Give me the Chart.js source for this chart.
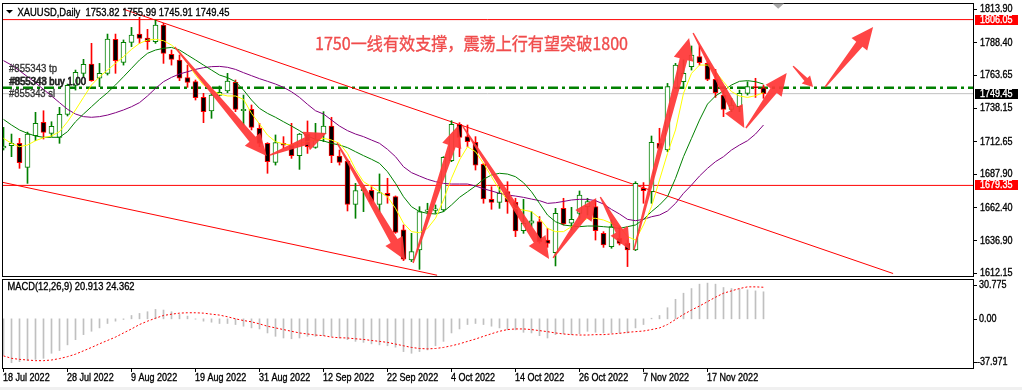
<!DOCTYPE html>
<html>
<head>
<meta charset="utf-8">
<script src="https://cdn.jsdelivr.net/npm/chart.js@4.4.0/dist/chart.umd.min.js"></script>
<style>
html, body { margin: 0; padding: 0; background: #fff; }
#wrap { position: relative; width: 1022px; height: 390px; overflow: hidden; }
#main { position: absolute; left: 0; top: 0; width: 1022px; height: 278px; }
#macd { position: absolute; left: 0; top: 278px; width: 1022px; height: 112px; }
#foot { position: absolute; left: 0; top: 387px; width: 1022px; height: 3px; background: #f0f0f0; }
</style>
</head>
<body>
<div id="wrap">
  <canvas id="main" width="1022" height="278"></canvas>
  <canvas id="macd" width="1022" height="112"></canvas>
  <div id="foot"></div>
</div>
<script>
// XAUUSD daily, 18 Jul 2022 .. 28 Nov 2022 (96 bars)
const opens = [
  1707.9, 1709.7, 1711.5, 1693.1, 1717.3, 1727.5, 1719.1, 1716.1, 1733.6, 1755.8,
  1765.0, 1772.1, 1761.2, 1765.0, 1791.0, 1773.4, 1788.7, 1795.0, 1792.0, 1789.2,
  1801.9, 1779.5, 1775.2, 1761.7, 1758.6, 1746.6, 1736.2, 1748.2, 1751.5, 1758.1,
  1736.4, 1737.5, 1723.0, 1711.5, 1697.0, 1711.5, 1710.2, 1702.1, 1718.6, 1708.4,
  1718.6, 1724.7, 1701.8, 1698.0, 1664.9, 1675.3, 1675.6, 1664.9, 1673.3, 1670.8,
  1645.3, 1622.4, 1630.0, 1659.5, 1660.3, 1660.6, 1698.3, 1726.0, 1716.6, 1712.3,
  1695.5, 1668.7, 1666.4, 1674.6, 1666.4, 1644.8, 1650.4, 1651.7, 1637.6, 1628.0,
  1661.8, 1650.4, 1658.0, 1663.1, 1663.1, 1642.7, 1632.5, 1638.9, 1635.1, 1630.0,
  1677.1, 1674.6, 1711.5, 1706.4, 1754.3, 1758.6, 1770.1, 1777.7, 1772.6, 1760.4,
  1748.4, 1737.5, 1739.5, 1749.7, 1754.8, 1753.82
];
const highs = [
  1723.7, 1718.6, 1715.3, 1720.1, 1735.2, 1736.4, 1728.0, 1739.0, 1756.8, 1767.5,
  1775.7, 1787.9, 1772.6, 1795.0, 1795.0, 1790.5, 1800.1, 1807.8, 1798.6, 1805.7,
  1803.2, 1782.8, 1779.0, 1771.3, 1759.9, 1749.7, 1749.7, 1755.3, 1765.0, 1759.9,
  1748.4, 1740.8, 1726.8, 1712.0, 1717.9, 1716.6, 1726.8, 1719.1, 1728.6, 1726.8,
  1735.7, 1731.4, 1706.4, 1698.8, 1680.9, 1679.2, 1678.4, 1688.1, 1684.8, 1671.3,
  1649.1, 1642.7, 1663.1, 1665.7, 1664.4, 1701.3, 1728.8, 1727.3, 1725.5, 1716.6,
  1696.2, 1678.4, 1678.4, 1682.2, 1669.5, 1668.7, 1659.3, 1655.5, 1646.6, 1661.8,
  1669.5, 1662.6, 1675.1, 1669.5, 1668.2, 1644.0, 1652.9, 1647.8, 1637.6, 1682.2,
  1681.5, 1717.1, 1723.0, 1757.3, 1772.6, 1775.2, 1785.9, 1785.9, 1773.9, 1768.0,
  1752.2, 1745.9, 1752.2, 1758.6, 1761.2, 1755.99
];
const lows = [
  1706.4, 1701.3, 1692.4, 1680.9, 1713.5, 1714.8, 1716.6, 1711.5, 1732.4, 1752.2,
  1762.4, 1758.9, 1754.8, 1763.7, 1765.0, 1771.3, 1785.4, 1787.9, 1783.3, 1787.9,
  1772.6, 1771.3, 1759.4, 1754.3, 1744.6, 1727.3, 1730.6, 1747.7, 1750.2, 1735.7,
  1725.5, 1721.7, 1708.9, 1688.6, 1694.9, 1707.7, 1700.0, 1691.6, 1703.8, 1707.7,
  1712.8, 1696.7, 1694.9, 1659.8, 1654.2, 1659.3, 1665.2, 1659.3, 1665.7, 1642.7,
  1621.9, 1621.1, 1615.2, 1657.5, 1658.0, 1659.3, 1697.5, 1701.3, 1708.9, 1691.1,
  1665.7, 1661.1, 1661.8, 1658.0, 1640.2, 1642.7, 1647.8, 1635.1, 1632.0, 1617.8,
  1649.1, 1645.3, 1654.2, 1656.7, 1637.6, 1632.0, 1631.3, 1633.8, 1617.3, 1629.5,
  1665.7, 1665.7, 1706.4, 1705.1, 1753.5, 1753.5, 1767.5, 1771.3, 1759.4, 1746.6,
  1731.9, 1735.7, 1735.7, 1748.4, 1746.6, 1745.91
];
const closes = [
  1709.4, 1711.5, 1696.7, 1718.6, 1726.8, 1719.9, 1724.5, 1733.6, 1755.8, 1765.7,
  1771.9, 1759.4, 1765.0, 1791.2, 1774.7, 1788.7, 1794.3, 1791.7, 1789.2, 1801.9,
  1780.3, 1775.7, 1761.2, 1758.1, 1746.4, 1735.7, 1748.4, 1750.5, 1759.1, 1737.5,
  1737.2, 1723.7, 1711.5, 1697.5, 1712.0, 1710.0, 1702.1, 1718.6, 1708.9, 1714.0,
  1724.7, 1702.1, 1697.0, 1664.9, 1675.3, 1675.9, 1666.9, 1673.8, 1671.3, 1643.5,
  1622.9, 1628.7, 1659.3, 1660.3, 1661.1, 1700.8, 1726.0, 1716.1, 1712.8, 1694.9,
  1669.0, 1666.4, 1673.3, 1666.7, 1644.5, 1650.4, 1652.2, 1636.4, 1635.1, 1658.0,
  1649.9, 1653.4, 1672.0, 1666.9, 1644.8, 1633.8, 1647.8, 1635.1, 1630.0, 1680.9,
  1675.3, 1712.3, 1707.7, 1754.8, 1771.3, 1765.0, 1779.0, 1773.1, 1760.4, 1750.2,
  1737.5, 1740.8, 1749.7, 1754.8, 1753.8, 1749.45
];
// moving averages as drawn on the chart
const maFast = [
  1715.3, 1711.5, 1708.9, 1710.2, 1713.5, 1715.8, 1717.1, 1720.4, 1728.0, 1737.0,
  1746.6, 1756.1, 1762.4, 1767.5, 1772.6, 1777.7, 1783.3, 1787.9, 1790.4, 1791.0,
  1789.9, 1786.6, 1781.5, 1772.6, 1763.7, 1756.1, 1752.2, 1749.2, 1747.7, 1747.7,
  1745.1, 1734.4, 1726.3, 1717.8, 1712.8, 1711.0, 1710.2, 1711.5, 1712.8, 1714.0,
  1715.3, 1714.0, 1711.5, 1703.8, 1691.6, 1682.2, 1678.4, 1674.5, 1670.7, 1661.8,
  1650.4, 1644.0, 1643.2, 1646.5, 1654.2, 1668.2, 1684.8, 1698.8, 1708.9, 1705.1,
  1696.2, 1686.0, 1675.9, 1668.2, 1661.8, 1660.5, 1659.3, 1654.2, 1646.5, 1644.0,
  1644.0, 1647.8, 1650.4, 1654.2, 1654.2, 1652.9, 1650.4, 1647.8, 1640.2, 1637.6,
  1649.1, 1663.1, 1683.5, 1703.8, 1721.7, 1749.7, 1765.0, 1771.3, 1771.3, 1766.2,
  1758.6, 1751.0, 1747.7, 1746.6, 1747.9, 1750.2
];
const maMid = [
  1729.8, 1725.5, 1721.7, 1719.1, 1717.1, 1716.1, 1716.1, 1716.1, 1720.4, 1728.0,
  1733.9, 1739.5, 1745.1, 1750.2, 1756.1, 1762.4, 1768.8, 1775.2, 1780.3, 1782.8,
  1784.1, 1784.8, 1782.8, 1779.0, 1775.2, 1771.3, 1767.5, 1763.7, 1761.7, 1758.6,
  1752.2, 1744.6, 1738.2, 1734.4, 1731.4, 1728.0, 1724.7, 1721.2, 1717.1, 1714.5,
  1713.3, 1711.5, 1710.2, 1708.2, 1705.1, 1702.1, 1699.3, 1696.2, 1689.8, 1680.9,
  1670.7, 1663.1, 1659.3, 1658.0, 1657.5, 1659.3, 1664.4, 1670.2, 1674.5, 1678.9,
  1684.0, 1687.3, 1688.6, 1688.0, 1686.0, 1681.4, 1674.5, 1665.6, 1656.7, 1651.6,
  1649.1, 1648.3, 1647.8, 1648.3, 1648.3, 1647.8, 1647.3, 1646.5, 1647.8, 1649.1,
  1653.4, 1659.3, 1664.4, 1670.7, 1684.7, 1701.3, 1715.3, 1729.3, 1741.5, 1747.7,
  1751.7, 1756.1, 1758.9, 1759.4, 1758.6, 1756.8
];
const maSlow = [
  1774.7, 1771.3, 1767.0, 1762.4, 1757.8, 1752.7, 1747.7, 1742.6, 1737.5, 1733.9,
  1731.9, 1731.4, 1731.9, 1733.1, 1734.9, 1737.0, 1739.5, 1742.6, 1747.7, 1753.5,
  1758.6, 1761.9, 1764.5, 1766.2, 1768.0, 1769.3, 1770.1, 1770.3, 1769.6, 1768.0,
  1765.5, 1763.2, 1760.9, 1758.9, 1756.8, 1754.3, 1750.9, 1746.6, 1741.3, 1736.4,
  1733.9, 1729.3, 1724.7, 1721.2, 1718.6, 1716.6, 1714.0, 1711.5, 1706.9, 1701.3,
  1693.6, 1689.1, 1686.5, 1684.0, 1682.2, 1680.9, 1680.4, 1680.4, 1680.4, 1678.9,
  1676.8, 1675.1, 1673.3, 1672.0, 1671.2, 1670.2, 1668.9, 1667.7, 1665.6, 1666.1,
  1667.1, 1668.2, 1668.7, 1668.7, 1667.7, 1665.1, 1661.0, 1657.5, 1653.4, 1652.4,
  1653.4, 1655.4, 1656.7, 1659.8, 1665.6, 1673.3, 1679.6, 1686.5, 1692.4, 1697.5,
  1701.3, 1706.4, 1710.2, 1713.5, 1718.6, 1725.5
];
// MACD(12,26,9)
const macdMain = [
  -27.9, -33.9, -33.1, -32.3, -31.3, -30.5, -26.6, -24.5, -20.1, -16.1,
  -12.2, -9.6, -7.0, -3.6, -1.8, -0.5, 2.6, 4.2, 5.5, 7.3,
  6.8, 5.5, 3.4, 2.1, -0.3, -1.8, -2.6, -3.6, -3.6, -4.4,
  -5.7, -7.0, -7.8, -10.9, -13.5, -14.8, -15.4, -14.8, -13.5, -13.5,
  -13.0, -13.5, -14.8, -16.1, -17.4, -18.2, -19.3, -20.1, -20.8, -21.9,
  -25.3, -26.6, -25.3, -24.0, -20.8, -17.4, -10.9, -7.8, -4.4, -3.6,
  -4.4, -5.7, -7.0, -8.5, -8.5, -10.4, -10.9, -13.0, -14.8, -12.2,
  -11.5, -12.2, -11.5, -9.6, -10.4, -10.9, -10.9, -10.9, -10.9, -7.0,
  -4.4, 0.5, 2.6, 8.6, 15.1, 19.8, 23.4, 26.8, 27.6, 26.8,
  24.2, 23.4, 22.9, 22.4, 21.6, 20.9
];
const macdSignal = [
  -28.6, -30.5, -31.3, -31.8, -32.3, -32.3, -31.8, -30.7, -29.2, -27.3,
  -24.7, -22.1, -19.3, -16.7, -14.1, -10.9, -7.8, -4.4, -1.8, 0.5,
  2.6, 3.6, 4.4, 4.7, 4.7, 4.4, 3.6, 2.9, 1.6, 0.0,
  -1.3, -2.3, -3.9, -5.7, -7.0, -8.3, -9.6, -10.9, -11.7, -12.5,
  -13.0, -14.1, -14.6, -14.8, -15.4, -15.9, -16.7, -17.4, -18.2, -19.5,
  -20.8, -22.1, -22.9, -23.2, -22.9, -22.1, -20.8, -19.3, -17.4, -15.6,
  -13.5, -11.5, -9.6, -8.3, -7.8, -7.8, -8.3, -9.1, -9.9, -10.9,
  -11.7, -12.2, -12.5, -12.5, -12.2, -12.2, -11.7, -11.2, -10.4, -9.9,
  -9.4, -8.3, -7.0, -4.4, -0.5, 3.4, 6.8, 9.9, 13.3, 16.7,
  19.8, 21.6, 23.4, 24.7, 24.7, 24.4
];
const yTicks = [1813.90, 1788.40, 1763.65, 1738.15, 1712.65, 1687.90, 1662.40, 1636.90, 1612.15];
const xLabels = ['18 Jul 2022', '28 Jul 2022', '9 Aug 2022', '19 Aug 2022', '31 Aug 2022', '12 Sep 2022',
  '22 Sep 2022', '4 Oct 2022', '14 Oct 2022', '26 Oct 2022', '7 Nov 2022', '17 Nov 2022'];
const macdRange = [-37.971, 30.775];
const bidPrice = 1749.45;
const buyPrice = 1754.0;
const redLevels = [1806.05, 1679.35];
// drawn objects: [bar index, price]
const upperTrend = [[15.0, 1814.0], [111.2, 1612.0]];
const lowerTrend = [[-0.19, 1681.8], [54.2, 1610.7]];
const arrowFrom = [[21.4, 1785.1], [33.3, 1702.5], [41.7, 1711.8], [51.2, 1620.0], [57.4, 1724.7], [68.7, 1623.9],
  [74.6, 1670.5], [78.8, 1630.0], [86.2, 1795.8], [92.8, 1723.2], [98.7, 1770.5], [102.7, 1754.5]];
const arrowTo = [[32.9, 1701.8], [40.4, 1719.4], [50.2, 1622.3], [56.9, 1725.5], [68.2, 1623.1], [74.1, 1669.7],
  [78.3, 1630.0], [85.7, 1792.0], [92.6, 1723.2], [97.9, 1765.2], [101.2, 1754.5], [108.7, 1800.4]];
const note = '1750一线有效支撑，震荡上行有望突破1800';

const X_MIN = -0.1875, X_MAX = 121.1875;
const UP = '#008000', DN = '#ff0000';
const FONT = '"Liberation Sans", Arial, sans-serif';
const UI = '11px ' + FONT;
const SQ = 0.82; // horizontal squeeze to get close to the narrow terminal font
const idx = closes.map((_, i) => i);
const bull = idx.map(i => closes[i] >= opens[i]);

Chart.defaults.animation = false;
Chart.defaults.plugins.legend.display = false;
Chart.defaults.plugins.tooltip.enabled = false;
Chart.defaults.font.family = FONT;

// text squeezed horizontally, a touch heavier like the terminal font
function uiText(ctx, text, x, y, color, sx, font) {
  ctx.save();
  ctx.font = font || UI;
  ctx.translate(x, y);
  ctx.scale(sx || SQ, 1);
  ctx.textBaseline = 'middle';
  ctx.textAlign = 'left';
  ctx.fillStyle = color;
  ctx.strokeStyle = color;
  ctx.lineWidth = 0.35;
  ctx.fillText(text, 0, 0);
  ctx.strokeText(text, 0, 0);
  ctx.restore();
}

function fitText(ctx, text, x, y, w, font, color) {
  ctx.save();
  ctx.font = font;
  const m = ctx.measureText(text).width;
  ctx.restore();
  uiText(ctx, text, x, y, color, w / m, font);
}

function drawArrow(ctx, x0, y0, x1, y1) {
  const dx = x1 - x0, dy = y1 - y0, L = Math.hypot(dx, dy);
  const ux = dx / L, uy = dy / L, nx = -uy, ny = ux;
  const hl = Math.min(22, L * 0.36), hw = Math.min(10, L * 0.2), sw = Math.min(4, L * 0.07);
  const bx = x1 - ux * hl, by = y1 - uy * hl;
  ctx.beginPath();
  ctx.moveTo(x0 + nx * 0.7, y0 + ny * 0.7);
  ctx.lineTo(bx + nx * sw, by + ny * sw);
  ctx.lineTo(bx + nx * hw, by + ny * hw);
  ctx.lineTo(x1, y1);
  ctx.lineTo(bx - nx * hw, by - ny * hw);
  ctx.lineTo(bx - nx * sw, by - ny * sw);
  ctx.lineTo(x0 - nx * 0.7, y0 - ny * 0.7);
  ctx.closePath();
  ctx.fillStyle = 'rgba(255,55,55,0.93)';
  ctx.fill();
}

function frame(ctx, a) {
  ctx.save();
  ctx.strokeStyle = '#000';
  ctx.lineWidth = 1;
  ctx.strokeRect(a.left + 0.5, a.top + 0.5, a.right - a.left, a.bottom - a.top);
  ctx.restore();
}

const hline = (v, color, width, dash, order) => ({
  type: 'line', data: [{ x: X_MIN, y: v }, { x: X_MAX, y: v }],
  borderColor: color, borderWidth: width, borderDash: dash, pointRadius: 0, order, clip: 0
});
const seg = (pts, color, order) => ({
  type: 'line', data: pts.map(p => ({ x: p[0], y: p[1] })),
  borderColor: color, borderWidth: 1, pointRadius: 0, order, clip: 0
});
const maLine = (arr, color, order) => ({
  type: 'line', data: arr.map((v, i) => ({ x: i, y: v })),
  borderColor: color, borderWidth: 1, pointRadius: 0, tension: 0, order
});

const mainOverlay = {
  id: 'mainOverlay',
  afterDatasetsDraw(chart) {
    const { ctx, chartArea: a, scales: { x, y } } = chart;
    ctx.save();
    ctx.beginPath();
    ctx.rect(a.left, a.top, a.right - a.left, a.bottom - a.top);
    ctx.clip();
    arrowFrom.forEach((f, k) => {
      const t = arrowTo[k];
      drawArrow(ctx, x.getPixelForValue(f[0]), y.getPixelForValue(f[1]),
        x.getPixelForValue(t[0]), y.getPixelForValue(t[1]));
    });
    ctx.restore();
  },
  afterDraw(chart) {
    const { ctx, chartArea: a, scales: { y } } = chart;
    frame(ctx, a);
    // price axis labels
    y.ticks.forEach(t => uiText(ctx, t.value.toFixed(2), a.right + 7, y.getPixelForValue(t.value), '#000'));
    // title
    ctx.fillStyle = '#000';
    ctx.beginPath();
    ctx.moveTo(6, 10); ctx.lineTo(13, 10); ctx.lineTo(9.5, 13.5); ctx.closePath();
    ctx.fill();
    fitText(ctx, 'XAUUSD,Daily  1753.82 1755.99 1745.91 1749.45', 17.5, 12.5, 212, UI, '#000');
    // order labels
    fitText(ctx, '#855343 tp', 9, 69, 48, UI, '#333');
    fitText(ctx, '#855348 buy 1.00', 10, 82, 76, UI, '#333');
    fitText(ctx, '#855343 buy 1.00', 9, 82, 77, UI, '#222');
    fitText(ctx, '#855343 sl', 9, 94, 46, UI, '#333');
    // note
    fitText(ctx, note, 315, 44, 313, '17px "Noto Sans CJK SC", sans-serif', '#f04c4c');
    // chart shift marker
    ctx.fillStyle = '#a8a8a8';
    ctx.beginPath();
    ctx.moveTo(772.5, 3.5); ctx.lineTo(784, 3.5); ctx.lineTo(778.2, 8.8); ctx.closePath();
    ctx.fill();
    // price boxes on the axis
    [[redLevels[0], '#ff0000'], [bidPrice, '#000000'], [redLevels[1], '#ff0000']].forEach(([v, bg]) => {
      const yy = Math.round(y.getPixelForValue(v));
      ctx.fillStyle = bg;
      ctx.fillRect(a.right + 2, yy - 5, 43, 10);
      uiText(ctx, v.toFixed(2), a.right + 7, yy, '#fff');
    });
  }
};

new Chart(document.getElementById('main'), {
  type: 'bar',
  data: {
    datasets: [
      maLine(maFast, '#ffff00', 3),
      maLine(maMid, '#008000', 4),
      maLine(maSlow, '#800080', 5),
      {
        type: 'bar', data: idx.map(i => ({ x: i, y: [opens[i], closes[i]] })),
        backgroundColor: idx.map(i => bull[i] ? '#ffffff' : '#000000'),
        borderColor: idx.map(i => bull[i] ? UP : DN),
        borderWidth: 1, borderSkipped: false, barThickness: 5, minBarLength: 1.5, grouped: false, order: 8
      },
      {
        type: 'bar', data: idx.map(i => ({ x: i, y: [lows[i], highs[i]] })),
        backgroundColor: idx.map(i => bull[i] ? UP : DN),
        barThickness: 1, grouped: false, order: 9
      },
      seg(upperTrend, '#ff0000', 10),
      seg(lowerTrend, '#ff0000', 11),
      hline(buyPrice, '#008000', 2.5, [10, 4, 3, 4], 12),
      hline(redLevels[0], '#ff0000', 1, [], 13),
      hline(redLevels[1], '#ff0000', 1, [], 14),
      hline(bidPrice, '#c0c0c0', 1, [], 15)
    ]
  },
  options: {
    responsive: false,
    devicePixelRatio: 1,
    events: [],
    layout: { padding: { left: 2, top: 3, right: 0, bottom: 2 } },
    scales: {
      x: { type: 'linear', min: X_MIN, max: X_MAX, offset: false, display: false, grid: { offset: false } },
      y: {
        type: 'linear', position: 'right', min: 1610.11, max: 1818.74,
        afterFit(s) { s.width = 49; },
        afterBuildTicks(s) { s.ticks = yTicks.map(v => ({ value: v })); },
        ticks: { display: false, autoSkip: false },
        grid: { drawOnChartArea: false, drawTicks: true, tickLength: 4, color: '#000' },
        border: { display: false }
      }
    }
  },
  plugins: [mainOverlay]
});

const macdOverlay = {
  id: 'macdOverlay',
  afterDraw(chart) {
    const { ctx, chartArea: a, scales: { x, y } } = chart;
    frame(ctx, a);
    fitText(ctx, 'MACD(12,26,9) 20.913 24.362', 7.5, 9, 127, UI, '#000');
    // time axis labels, left aligned on their tick
    x.ticks.forEach((t, k) => uiText(ctx, xLabels[k], x.getPixelForValue(t.value) - 0.5, a.bottom + 10, '#000'));
    // indicator scale labels, kept inside the pane like the terminal does
    const labs = [[macdRange[1], 6], [0, 0], [macdRange[0], -6]];
    ctx.fillStyle = '#000';
    labs.forEach(([v, off]) => {
      const yy = y.getPixelForValue(v);
      const txt = v === 0 ? '0.00' : v.toFixed(3);
      uiText(ctx, txt, v < 0 ? a.right + 4 : a.right + 6, yy + off, '#000');
      ctx.fillStyle = '#000';
      ctx.fillRect(a.right + 1, Math.round(yy + off), 3, 1);
    });
  }
};

new Chart(document.getElementById('macd'), {
  type: 'bar',
  data: {
    datasets: [
      {
        type: 'line', data: idx.map(i => ({ x: i, y: macdSignal[i] })),
        borderColor: '#ff0000', borderWidth: 1, borderDash: [2, 2], pointRadius: 0, order: 1
      },
      {
        type: 'bar', data: idx.map(i => ({ x: i, y: macdMain[i] })),
        backgroundColor: '#c0c0c0', barThickness: 1, grouped: false, order: 2
      }
    ]
  },
  options: {
    responsive: false,
    devicePixelRatio: 1,
    events: [],
    layout: { padding: { left: 2, top: 1, right: 0, bottom: 0 } },
    scales: {
      x: {
        type: 'linear', position: 'bottom', min: X_MIN, max: X_MAX, offset: false,
        afterFit(s) { s.height = 22; },
        afterBuildTicks(s) { s.ticks = xLabels.map((_, k) => ({ value: k * 8 })); },
        ticks: { display: false, autoSkip: false },
        grid: { offset: false, drawOnChartArea: false, drawTicks: true, tickLength: 4, color: '#000' },
        border: { display: false }
      },
      y: {
        type: 'linear', position: 'right', min: macdRange[0], max: macdRange[1],
        afterFit(s) { s.width = 49; },
        ticks: { display: false },
        grid: { display: false },
        border: { display: false }
      }
    }
  },
  plugins: [macdOverlay]
});
</script>
</body>
</html>
